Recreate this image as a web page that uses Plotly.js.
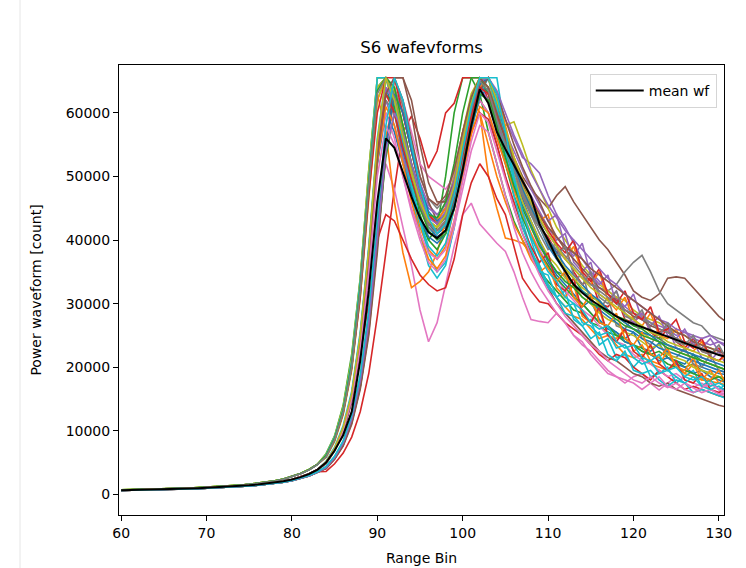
<!DOCTYPE html>
<html><head><meta charset="utf-8">
<script src="https://cdn.plot.ly/plotly-3.0.1.min.js"></script>
<style>html,body{margin:0;padding:0;background:#fff}#chart{width:746px;height:568px}</style>
</head><body><div id="chart"></div>
<script>
const rangeBins = [60,61,62,63,64,65,66,67,68,69,70,71,72,73,74,75,76,77,78,79,80,81,82,83,84,85,86,87,88,89,90,91,92,93,94,95,96,97,98,99,100,101,102,103,104,105,106,107,108,109,110,111,112,113,114,115,116,117,118,119,120,121,122,123,124,125,126,127,128,129,130,131];

const wf00 = [650,670,690,720,750,790,830,870,920,970,1030,1090,1160,1240,1330,1430,1550,1690,1860,2070,2340,2720,3200,3900, 5000,7100,10200,15200,24000,37000,54000, 65535,63000,57000,51000,46000,42500,41000,42000,46000, 53000,60000,65535,65535,60000,54000, 50000,46500,43000,40000,37000,35000,34500,31000,29500,30500,27500,26000,25500,24500,25500,23000,22500,23800,21500,21000,20500,22000,20000,19500,19000,18800];
const wf01 = [690,710,730,760,790,830,870,920,970,1030,1090,1160,1240,1330,1440,1560,1710,1880,2100,2380,2760,3250,3850,4700, 6100,8800,13000,20500,32000,48000,62000, 65535,60000,53000,47000,42000,38500,37000,39000,45000, 55000,62300,60000,50200,45000,40300, 40000,39500,38000,36000,33000,31000,29500,28000,27500,26000,24500,25000,23500,22000,21500,22000,20500,20000,19500,20500,19000,18500,18000,17800,17500,17200];
const wf02 = [700,720,740,770,810,850,890,940,990,1050,1110,1180,1260,1350,1460,1580,1730,1900,2120,2400,2780,3280,3900,4750, 6400,9200,14000,22000,34000,51000,65535, 65535,62000,55000,48000,43000,40000,42000,50000,60000, 65535,65535,63000,57000,52000,47000, 43000,40000,37500,35000,33500,32000,30500,29000,28500,27000,26500,25500,25000,24000,23500,23000,22000,22500,21500,21000,20000,20500,19500,19000,18500,18200];
const wf03 = [610,630,650,670,700,730,770,810,850,900,950,1010,1080,1150,1240,1330,1440,1570,1730,1920,2170,2500,2950,3550, 3600,4800,6500,9000,13000,19000,28000, 38000,48000,57000,59500,56000,51300,54000,60000,61500, 65535,65535,65535,62000,58000,55000, 51000,47000,44000,42000,40500,38000,39000,35000,33000,34000,30000,29500,31000,27500,27000,28500,25500,24500,26000,24000,23000,24500,22500,22000,23000,21000];
const wf04 = [600,620,640,660,690,720,760,800,840,890,940,1000,1070,1140,1220,1310,1420,1550,1700,1890,2130,2460,2900,3480, 4200,5800,8000,11800,17500,27000,40000, 55000,64000,60000,54000,49000,45500,44000,45000,49000, 54000,59000,63000,65535,63000,59000, 56000,53000,52000,50500,47000,44000,42000,39500,37000,35000,33500,32000,31000,29500,28500,28000,27000,26500,26000,25000,25500,24500,24000,23500,24000,23000];
const wf05 = [610,630,650,670,700,730,770,810,850,900,950,1010,1080,1150,1240,1330,1440,1570,1730,1920,2170,2500,2950,3550, 4000,5500,7600,11000,16500,25000,38000, 54000,65535,65535,60000,52000,46000,43000,44000,48000, 54000,60000,64000,65535,62000,57000, 53000,50000,48000,46500,45000,47000,48400,46000,44000,42000,40000,38500,36500,34500,32000,31000,30500,31500,34000,34200,34000,32500,31000,29500,28000,27000];
const wf06 = [650,670,690,720,750,790,830,870,920,970,1030,1090,1160,1240,1330,1430,1550,1690,1860,2070,2340,2720,3200,3900, 5000,7000,10000,15000,22000,33000,46000, 52000,48000,42000,36000,29000,24000,27000,33000,39000, 44000,45800,42500,41000,39500,38200, 35000,31000,27500,27200,27000,28500,27000,25000,24000,22000,20500,19000,18500,17500,18500,19000,17500,16400,17500,18500,17500,16800,17500,16500,16000,15800];
const wf07 = [640,660,680,710,740,780,820,860,910,960,1020,1080,1150,1230,1320,1420,1540,1680,1850,2060,2330,2690,3170,3850, 4800,6800,9800,14800,23000,35500,52000, 63000,65535,61000,55000,50000,46500,45000,46500,51000, 57000,62000,65535,64000,59000,54000, 50000,47000,44000,42000,40000,38500,37000,35500,34000,33000,32500,32000,33000,35000,36500,37600,35000,32000,30000,29000,28000,27000,26500,25000,24500,24000];
const wf08 = [700,720,740,770,810,850,890,940,990,1050,1110,1180,1260,1350,1460,1580,1730,1900,2120,2400,2780,3280,3900,4750, 5800,8300,12500,19500,31000,47000,62000, 65535,63000,57000,51000,46000,43000,42000,44000,49000, 56000,62000,65535,63000,59000,58000, 58600,55000,51000,48000,45000,42000,40000,38000,36000,34500,33000,32000,31000,30500,29000,28000,27500,27000,26000,25500,25000,24000,23500,23000,22500,22000];
const wf09 = [690,710,730,760,790,830,870,920,970,1030,1090,1160,1240,1330,1440,1560,1710,1880,2100,2380,2760,3250,3850,4700, 6000,8700,13000,20000,31500,48000,64000, 65535,61000,54000,47000,41000,36000,34000,36000,42000, 50000,58000,64000,65535,65535,57000, 50000,44000,40000,36000,33000,31000,32000,27500,26500,27500,23500,24500,21500,22000,20000,21500,18500,19000,20000,17500,18500,19500,17000,18000,16500,17500];
const wf10 = [650,670,690,720,750,790,830,870,920,970,1030,1090,1160,1240,1330,1430,1550,1690,1860,2070,2340,2720,3200,3900, 5100,7200,10500,15800,25000,38500,55000, 64000,60000,54000,49000,45000,42000,40500,41500,45500, 52000,59000,64500,63000,58000,53000, 49000,45500,42500,39500,36500,34500,33000,31500,30000,28500,27000,26500,25500,24000,23500,22500,22000,21000,21500,20500,20000,19000,19500,18500,18000,17500];
const wf11 = [690,710,730,760,790,830,870,920,970,1030,1090,1160,1240,1330,1440,1560,1710,1880,2100,2380,2760,3250,3850,4700, 6200,9000,13500,21000,33500,50000,63000, 57000,46000,38000,32500,33500,35000,38000,43000,50000, 57000,62000,60000,55000,50000,46000, 42500,40000,37000,35000,36000,32500,31000,33000,28000,27000,29000,25000,24500,26000,22500,23500,21000,20500,22500,20000,19000,20500,18000,19500,17500,18500];
const wf12 = [600,620,640,660,690,720,760,800,840,890,940,1000,1070,1140,1220,1310,1420,1550,1700,1890,2130,2460,2900,3480, 4200,5700,8000,11500,17000,26000,39000, 53000,60000,56000,50000,44000,40000,38500,41000,47000, 55000,62000,65535,65535,61000,56000, 52000,48000,45000,42000,39500,37000,35500,34000,32000,31000,30500,29000,28000,27500,26500,26000,25000,24500,23500,23000,22500,22000,21000,20500,20000,19500];
const wf13 = [650,670,690,720,750,790,830,870,920,970,1030,1090,1160,1240,1330,1430,1550,1690,1860,2070,2340,2720,3200,3900, 4900,6900,9800,14500,22000,30000,40000, 44000,43000,40000,37000,34500,33000,32000,32500,37000, 44000,49000,52000,50000,46500,44000, 39000,34000,32000,30300,30000,28500,27000,26000,25000,23500,22000,21000,22000,21500,20000,19000,18000,19500,18500,17500,16500,17000,16500,16000,15500,15200];
const wf14 = [640,660,680,710,740,780,820,860,910,960,1020,1080,1150,1230,1320,1420,1540,1680,1850,2060,2330,2690,3170,3850, 5000,7000,10000,15000,23500,36500,53000, 62000,58000,53000,49000,45500,43500,43000,45000,50000, 56000,61000,64000,62000,58000,55000, 52000,49500,47000,44500,42000,40000,41000,36500,35000,36500,31500,30500,32000,28500,27000,28500,25500,25000,26500,23000,22500,24000,21500,21000,22500,20000];
const wf15 = [600,620,640,660,690,720,760,800,840,890,940,1000,1070,1140,1220,1310,1420,1550,1700,1890,2130,2460,2900,3480, 4100,5600,7800,11300,17000,26000,40000, 55000,62000,58000,52000,47000,43000,41000,42500,46500, 52000,58000,62000,60000,55000,50000, 45000,41000,38000,35000,32500,30000,28500,27000,25500,24000,22500,21500,21000,20000,19000,18500,17500,17000,17500,16500,16000,15500,15000,14500,14000,13700];
const wf16 = [650,670,690,720,750,790,830,870,920,970,1030,1090,1160,1240,1330,1430,1550,1690,1860,2070,2340,2720,3200,3900, 5000,7000,10200,15300,24000,37000,54000, 63000,65535,62000,57000,52000,50000,49000,48000,50000, 55000,59000,62000,60000,56000,52000, 48000,44500,41000,38500,36000,34000,32000,30500,29000,28000,26500,25000,24000,23500,22000,21000,20500,19500,18500,19000,18000,17500,17000,17500,16500,16000];
const wf17 = [690,710,730,760,790,830,870,920,970,1030,1090,1160,1240,1330,1440,1560,1710,1880,2100,2380,2760,3250,3850,4700, 5900,8500,12800,20000,32000,49000,64000, 65535,62000,56000,50000,45000,42000,41000,43000,48000, 55000,61000,65535,64000,59000,55000, 51000,47500,44000,41000,38500,39500,34500,33000,35000,30000,29000,31000,26500,26000,28000,24500,23500,25500,22000,21500,23000,20500,20000,22000,19500,19000];
const wf18 = [700,720,740,770,810,850,890,940,990,1050,1110,1180,1260,1350,1460,1580,1730,1900,2120,2400,2780,3280,3900,4750, 6300,9100,13800,21500,34000,51000,65535, 65535,64000,58000,52000,47000,44000,43000,45000,50000, 57000,63000,65535,65535,60000,55000, 50000,46000,43000,40000,37500,36000,34000,33000,31000,30000,28500,27500,27000,25500,25000,24000,23000,23500,22000,21500,21000,20000,19500,19000,18500,18000];
const wf19 = [640,660,680,710,740,780,820,860,910,960,1020,1080,1150,1230,1320,1420,1540,1680,1850,2060,2330,2690,3170,3850, 5200,7400,10800,16200,25500,39000,56000, 65535,63000,56000,49000,43000,38000,35000,36500,42000, 50000,57000,63000,65535,62000,56000, 49000,43000,38500,35500,32500,31000,28500,28000,26500,24500,25500,22000,21000,22500,19500,19000,19500,18000,17000,18000,17500,16000,16500,16000,15500,15000];
const wf20 = [650,670,690,720,750,790,830,870,920,970,1030,1090,1160,1240,1330,1430,1550,1690,1860,2070,2340,2720,3200,3900, 4900,6900,9900,14800,23000,35500,52000, 60000,57000,52000,47500,43500,40500,39500,41000,45000, 51000,57500,62500,64000,60000,55500, 51500,48000,45000,42000,39000,37000,35000,33000,32000,30500,29000,28000,27000,26000,25500,24500,24000,23000,22500,22000,21500,21000,20500,20000,19500,19200];
const wf21 = [610,630,650,670,700,730,770,810,850,900,950,1010,1080,1150,1240,1330,1440,1570,1730,1920,2170,2500,2950,3550, 4300,5900,8300,12200,18500,28000,42000, 56000,63000,60000,54000,48000,44000,43000,45000,49500, 55000,60000,64000,65535,63000,58000, 53000,49000,46000,43000,44000,39000,37000,39000,34500,33000,35000,30500,29000,31000,27500,26500,28500,25000,24500,26000,23000,22500,24000,21500,21000,22000];
const wf22 = [650,670,690,720,750,790,830,870,920,970,1030,1090,1160,1240,1330,1430,1550,1690,1860,2070,2340,2720,3200,3900, 5000,7000,10100,15100,23500,36000,53000, 63000,61000,55000,49500,45000,41500,40000,41000,45000, 52000,58000,63000,62000,57000,52000, 47000,43500,40500,38000,36000,34000,32500,31000,30000,28500,27000,26500,25000,24500,23500,22500,22000,21500,20500,20000,19500,19000,18500,18000,18500,17500];
const wf23 = [690,710,730,760,790,830,870,920,970,1030,1090,1160,1240,1330,1440,1560,1710,1880,2100,2380,2760,3250,3850,4700, 5900,8500,12700,19800,31000,47000,60000, 65535,65535,60000,54000,48000,44000,42500,43500,47000, 52000,57000,60000,59000,55000,50000, 46000,42000,39000,36500,38000,33000,32000,34000,28500,27000,29500,25000,24000,26000,22500,21500,23500,20500,19500,21000,18000,17500,19000,16500,16000,17000];
const wf24 = [640,660,680,710,740,780,820,860,910,960,1020,1080,1150,1230,1320,1420,1540,1680,1850,2060,2330,2690,3170,3850, 5000,7100,10300,15500,24500,38000,55000, 64000,62000,57000,52000,48000,45000,44000,45500,49500, 55500,61000,65535,65535,62000,57000, 54000,51000,48000,45500,43000,44000,39000,37500,39500,34500,33000,34500,30000,29500,31500,27500,26500,28000,25000,24500,26000,23500,23000,24500,22500,22000];
const wf25 = [600,620,640,660,690,720,760,800,840,890,940,1000,1070,1140,1220,1310,1420,1550,1700,1890,2130,2460,2900,3480, 4100,5600,7700,11200,16800,25500,39000, 54000,65535,65535,62000,55000,49000,46000,46000,49000, 54000,59000,63500,65535,63000,59000, 55000,51500,48500,46000,43000,40500,38500,37000,35500,34000,32500,31500,30500,29000,28000,27500,26500,26000,25500,24500,24000,23500,23000,22500,22000,21500];
const wf26 = [650,670,690,720,750,790,830,870,920,970,1030,1090,1160,1240,1330,1430,1550,1690,1860,2070,2340,2720,3200,3900, 5100,7200,10400,15600,24500,37500,53000, 60000,56000,50000,44500,40000,36500,35000,37000,42000, 48000,54000,58000,57000,52000,47000, 42000,38000,35000,32500,30500,28500,27000,25000,23500,22500,21000,19500,18500,18000,17500,16500,17500,18500,17000,16500,17500,16800,16000,16500,15800,15500];
const wf27 = [640,660,680,710,740,780,820,860,910,960,1020,1080,1150,1230,1320,1420,1540,1680,1850,2060,2330,2690,3170,3850, 5000,7000,10000,15000,23500,36000,52000, 62000,60000,55000,50000,46000,43000,42000,43500,47500, 54000,60000,64000,63000,59000,55000, 51000,48000,45500,43000,41000,39000,37500,36000,34500,33000,32000,31000,30000,29000,28500,27500,27000,26000,25500,24500,24000,23500,23000,22500,22000,21500];
const wf28 = [700,720,740,770,810,850,890,940,990,1050,1110,1180,1260,1350,1460,1580,1730,1900,2120,2400,2780,3280,3900,4750, 6000,8700,13100,20300,32500,49500,64000, 65535,63500,57500,51500,46500,43000,42000,44000,48500, 55000,61500,65535,64000,60000,56000, 52000,48500,45000,42500,40000,37500,35500,34000,32500,31500,30000,29000,28000,27000,26000,25500,24500,24000,23500,22500,22000,21500,21000,20500,20000,19500];
const wf29 = [690,710,730,760,790,830,870,920,970,1030,1090,1160,1240,1330,1440,1560,1710,1880,2100,2380,2760,3250,3850,4700, 6200,9000,13400,21000,33500,50000,65535, 65535,62000,55000,48500,43000,39000,37500,39500,45000, 53000,60000,65535,65535,61000,54000, 47000,42000,38500,35000,34500,31000,29500,30000,27000,26500,25000,25500,23000,23500,21500,20500,21000,19000,19500,18500,17500,18500,17000,16500,17000,16000];
const wf30 = [610,630,650,670,700,730,770,810,850,900,950,1010,1080,1150,1240,1330,1440,1570,1730,1920,2170,2500,2950,3550, 4300,5900,8200,12000,18000,27500,41000, 55000,63000,60000,54000,48500,44500,43000,44000,48000, 54000,60000,64500,65535,62000,57000, 52000,48000,45000,42500,40000,38000,36000,34500,33000,31500,30500,29000,28000,27000,26000,25500,25000,24000,23500,23000,22500,22000,21500,21000,20500,20000];
const wf31 = [650,670,690,720,750,790,830,870,920,970,1030,1090,1160,1240,1330,1430,1550,1690,1860,2070,2340,2720,3200,3900, 5000,7000,10000,15100,23800,36500,52500, 61000,58000,52000,46000,41000,37000,35500,37500,43000, 50000,56500,61000,60000,56000,52000, 48000,44000,41000,38000,35500,33500,35000,31000,29500,31500,27000,26500,28500,24500,23500,25500,22000,21500,23000,20000,19500,21500,18500,18000,19500,17000];
const wf32 = [700,720,740,770,810,850,890,940,990,1050,1110,1180,1260,1350,1460,1580,1730,1900,2120,2400,2780,3280,3900,4750, 6100,8800,13200,20500,32500,49000,63500, 65535,64000,58000,52000,47000,44000,43500,46000,52000, 60000,65535,65535,63000,58000,53000, 48500,45000,42000,39000,37000,35000,33500,32500,31000,30000,29500,28500,27500,26500,26000,25000,24500,24000,23000,22500,22000,21500,21000,20500,20000,19500];
const wf33 = [650,670,690,720,750,790,830,870,920,970,1030,1090,1160,1240,1330,1430,1550,1690,1860,2070,2340,2720,3200,3900, 5000,7100,10200,15300,24000,37000,53500, 63000,60000,54500,49500,45500,42500,41500,43000,47000, 53500,59500,64000,63000,59500,56000, 52500,49500,46500,44000,41500,39500,38000,40000,35000,33500,35500,31500,30000,32000,28500,27500,29500,25500,26000,27500,24000,23000,24500,21500,21000,22500];
const wf34 = [600,620,640,660,690,720,760,800,840,890,940,1000,1070,1140,1220,1310,1420,1550,1700,1890,2130,2460,2900,3480, 4200,5800,8100,11800,17800,27000,40500, 54000,60000,57000,52000,47000,43500,42500,44500,49000, 55000,61000,65000,65535,63500,60000, 56500,53500,50500,48000,45500,43500,41500,40000,38500,37000,35500,34000,33000,31500,30500,29500,28500,27500,27000,26000,25500,25000,24500,25000,24000,23500];
const wf35 = [640,660,680,710,740,780,820,860,910,960,1020,1080,1150,1230,1320,1420,1540,1680,1850,2060,2330,2690,3170,3850, 4900,6900,9900,14900,23300,36000,53000, 63000,65535,62000,56000,50000,46500,45500,47000,51000, 57000,62500,65535,64000,60000,56000, 52500,49000,46000,44000,42000,40500,39000,38000,37000,35500,34500,33500,32500,31500,30500,29500,28500,27500,26500,25500,25000,24000,23500,23000,22500,22000];
const wf36 = [650,670,690,720,750,790,830,870,920,970,1030,1090,1160,1240,1330,1430,1550,1690,1860,2070,2340,2720,3200,3900, 5000,7000,10000,15000,23000,35000,50000, 58000,55000,50000,45000,41000,38000,37000,38500,43000, 49500,55500,60000,58500,54000,49500, 45000,41000,37500,34500,32000,30000,28000,26500,25000,23500,22500,21000,20000,19000,18000,17500,18500,17500,16800,17500,16500,16000,16800,17500,16500,16000];
const wf37 = [690,710,730,760,790,830,870,920,970,1030,1090,1160,1240,1330,1440,1560,1710,1880,2100,2380,2760,3250,3850,4700, 5900,8600,12900,20100,32000,48500,63000, 65535,62500,56500,50500,45500,42500,41500,43000,47500, 54500,60500,65000,63500,59000,55000, 51000,47500,44500,42000,39500,37500,39000,34500,33000,35000,31000,30000,32000,28000,27500,29000,26000,25000,27000,24000,23500,25000,22500,22000,23500,21000];
const wf38 = [640,660,680,710,740,780,820,860,910,960,1020,1080,1150,1230,1320,1420,1540,1680,1850,2060,2330,2690,3170,3850, 5100,7200,10500,15800,25000,38500,55500, 65535,62000,56000,50500,46000,43000,42000,44000,48500, 55500,61500,65535,65535,62000,57500, 53000,49500,46000,43500,41000,39000,37000,35500,34000,32500,31500,30500,29500,28500,27500,26500,25500,25000,24000,23500,23000,22500,22000,21500,21000,20500];
const wf39 = [610,630,650,670,700,730,770,810,850,900,950,1010,1080,1150,1240,1330,1440,1570,1730,1920,2170,2500,2950,3550, 4400,6000,8400,12400,18800,29000,43500, 58000,65535,62000,55000,48500,43500,41000,42500,47000, 54000,61000,65535,65535,63000,57000, 50000,44500,40500,37500,35000,33500,31000,30000,29000,27000,26000,26500,24000,23000,23500,21500,21000,22000,19500,20000,18500,18000,18500,17000,17500,16800];

const meanWf = [650,670,690,720,750,790,830,870,920,970,1030,1090,1160,1240,1330,1430,1550,1690,1860,2070,2340,2700,3200,3900, 5000,6900,9300,13000,21000,32000,46000, 56000,54500,50500,46800,43500,41200,40300,41500,45000, 51000,58000,63700,61500,57000,54300, 51800,49300,46800,42500,40000,37200,35000,33000,31700,30600,29700,28800,28000,27300,26800,26300,25700,25200,24700,24200,23700,23300,22800,22400,21900,21600];

const waveforms = [wf00,wf01,wf02,wf03,wf04,wf05,wf06,wf07,wf08,wf09,wf10,wf11,wf12,wf13,wf14,wf15,wf16,wf17,wf18,wf19,wf20,wf21,wf22,wf23,wf24,wf25,wf26,wf27,wf28,wf29,wf30,wf31,wf32,wf33,wf34,wf35,wf36,wf37,wf38,wf39];
const tab10 = ['#1f77b4','#ff7f0e','#2ca02c','#d62728','#9467bd','#8c564b','#e377c2','#7f7f7f','#bcbd22','#17becf'];
const xTicks = [60,70,80,90,100,110,120,130];
const yTicks = [0,10000,20000,30000,40000,50000,60000];

const traces = waveforms.map((w, i) => ({
  type: 'scatter', mode: 'lines', x: rangeBins, y: w,
  line: {color: tab10[i % 10], width: 1.6}, showlegend: false, hoverinfo: 'skip'
}));
traces.push({type: 'scatter', mode: 'lines', x: rangeBins, y: meanWf, name: 'mean wf',
  line: {color: '#000000', width: 2}});

const axisCommon = {
  showline: true, mirror: true, linecolor: '#000', linewidth: 1,
  ticks: 'outside', ticklen: 5, tickwidth: 1, tickcolor: '#000',
  showgrid: false, zeroline: false, tickfont: {size: 14, color: '#000'}
};

const layout = {
  width: 746, height: 568,
  margin: {l: 119, r: 22, t: 65, b: 53},
  paper_bgcolor: '#fff', plot_bgcolor: '#fff',
  font: {family: 'DejaVu Sans', size: 14, color: '#000'},
  title: {text: 'S6 wafevforms', font: {size: 16.5, color: '#000'}, xref: 'paper', x: 0.5, xanchor: 'center', yref: 'container', y: 0.917, yanchor: 'middle'},
  xaxis: Object.assign({}, axisCommon, {range: [59.75, 130.6], tickmode: 'array', tickvals: xTicks, ticktext: xTicks.map(String), title: {text: 'Range Bin', font: {size: 14}, standoff: 13}}),
  yaxis: Object.assign({}, axisCommon, {range: [-3250, 67530], tickmode: 'array', tickvals: yTicks, ticktext: yTicks.map(String), title: {text: 'Power waveform [count]', font: {size: 14}, standoff: 20}}),
  legend: {x: 0.988, xanchor: 'right', y: 0.98, yanchor: 'top', bgcolor: 'rgba(255,255,255,0.85)', bordercolor: '#d5d5d5', borderwidth: 1, font: {size: 14}, itemwidth: 48},
  shapes: [{type: 'line', xref: 'paper', yref: 'paper', x0: -0.1636, x1: -0.1636, y0: -0.2, y1: 1.2, line: {color: '#e6e6e6', width: 1}}]
};

Plotly.newPlot('chart', traces, layout, {displayModeBar: false, staticPlot: true});
</script>
</body></html>
